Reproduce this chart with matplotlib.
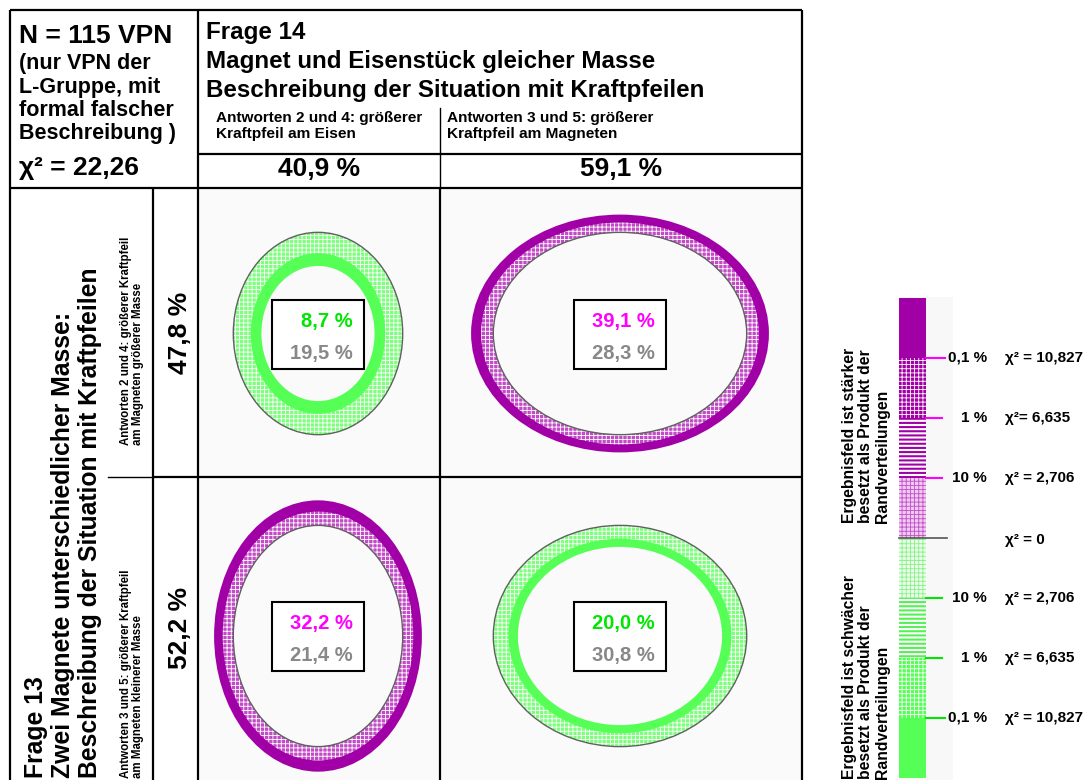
import numpy as np
import matplotlib
matplotlib.use("Agg")
import matplotlib.pyplot as plt
from matplotlib.patches import Ellipse, Rectangle

plt.rcParams['font.family'] = ['Liberation Sans', 'DejaVu Sans']
plt.rcParams['font.weight'] = 'bold'
plt.rcParams['hatch.linewidth'] = 0.6

# Vierfeldertafel Frage 13 x Frage 14
n_vpn = 115
chi2 = 22.26
col_labels = ['Antworten 2 und 4: größerer\nKraftpfeil am Eisen',
              'Antworten 3 und 5: größerer\nKraftpfeil am Magneten']
col_pct = [40.9, 59.1]
row_labels = ['Antworten 2 und 4: größerer Kraftpfeil\nam Magneten größerer Masse',
              'Antworten 3 und 5: größerer Kraftpfeil\nam Magneten kleinerer Masse']
row_pct = [47.8, 52.2]
observed = [[8.7, 39.1],
            [32.2, 20.0]]
expected = [[19.5, 28.3],
            [21.4, 30.8]]

# Legende: Signifikanzniveaus
levels = ['0,1 %', '1 %', '10 %']
chi_crit = ['χ² = 10,827', 'χ²= 6,635', 'χ² = 2,706']
chi_crit_low = ['χ² = 10,827', 'χ² = 6,635', 'χ² = 2,706']

PURPLE = '#a100a6'
PURPLE_H = '#c24cc6'
MAGENTA = '#ff00ff'
GREEN = '#55ff55'
GREEN_H = '#7dff7d'
LIME = '#00e600'
GRAY_TXT = '#888888'


def pct(v):
    return f'{v:.1f}'.replace('.', ',') + ' %'


fig = plt.figure(figsize=(10.88, 7.80), dpi=100)
ax = fig.add_axes([0, 0, 1, 1])
ax.set_xlim(0, 1088)
ax.set_ylim(780, 0)
ax.axis('off')

# Tabellenraster
x_left, x_mid, x_right = 198, 440, 802
y_top, y_mid, y_bot = 188, 477, 793
ax.add_patch(Rectangle((x_left, y_top), x_right - x_left, 780 - y_top,
                       facecolor='#fafafa', edgecolor='none', zorder=0))

lk = dict(color='black', lw=1.6, solid_capstyle='butt', zorder=5)
ax.plot([10, x_right], [10, 10], **lk)
ax.plot([10, 10], [10, 780], **lk)
ax.plot([x_right, x_right], [10, 780], **lk)
ax.plot([10, x_right], [y_top, y_top], **lk)
ax.plot([x_left, x_right], [154, 154], **lk)
ax.plot([x_left, x_left], [10, 780], **lk)
ax.plot([x_mid, x_mid], [108, y_top], color='black', lw=1.0, zorder=5)
ax.plot([x_mid, x_mid], [y_top, 780], **lk)
ax.plot([153, 153], [y_top, 780], **lk)
ax.plot([108, 153], [y_mid, y_mid], color='black', lw=1.0, zorder=5)
ax.plot([153, x_right], [y_mid, y_mid], **lk)

# Kopf links
ax.text(19, 36, f'N = {n_vpn} VPN', fontsize=19, va='center')
for i, s in enumerate(['(nur VPN der', 'L-Gruppe, mit', 'formal falscher', 'Beschreibung )']):
    ax.text(19, 64 + i * 23, s, fontsize=15.5, va='center')
ax.text(19, 168, 'χ² = ' + f'{chi2:.2f}'.replace('.', ','), fontsize=19, va='center')

# Kopf Frage 14
for i, s in enumerate(['Frage 14', 'Magnet und Eisenstück gleicher Masse',
                       'Beschreibung der Situation mit Kraftpfeilen']):
    ax.text(206, 33 + i * 28.5, s, fontsize=17.4, va='center')

col_x = [(x_left, x_mid), (x_mid, x_right)]
col_off = [18, 7]
for j, (a, b) in enumerate(col_x):
    ax.text(a + col_off[j], 126, col_labels[j], fontsize=11.1, va='center', linespacing=1.15)
    ax.text((a + b) / 2, 169, pct(col_pct[j]), fontsize=19, ha='center', va='center')

# Kopf Frage 13 (gedreht)
for x, s in [(36, 'Frage 13'), (63, 'Zwei Magnete unterschiedlicher Masse:'),
             (90, 'Beschreibung der Situation mit Kraftpfeilen')]:
    ax.text(x, 778, s, rotation=90, fontsize=17.8, ha='center', va='bottom')

row_y = [(y_top, y_mid), (y_mid, y_bot)]
row_start = [445, 778]
row_mid = [333, 628]
for i in range(2):
    ax.text(132, row_start[i], row_labels[i], rotation=90, fontsize=8.3,
            ha='center', va='bottom', multialignment='left', linespacing=1.1)
    ax.text(180, row_mid[i], pct(row_pct[i]), rotation=90, fontsize=19,
            ha='center', va='center')


# Ringe: innerer Rand = kleinerer Wert, äußerer Rand = größerer Wert
def ring(cx, cy, w, h, obs, exp):
    r = np.sqrt(obs / exp)
    if obs > exp:
        mid = 1 + 0.55 * (r - 1)
        ax.add_patch(Ellipse((cx, cy), w * r, h * r, facecolor=PURPLE,
                             edgecolor='none', zorder=2))
        ax.add_patch(Ellipse((cx, cy), w * mid, h * mid, facecolor=PURPLE_H,
                             edgecolor='white', lw=0, hatch='++++', zorder=2))
        ax.add_patch(Ellipse((cx, cy), w, h, facecolor='#fafafa',
                             edgecolor='#606060', lw=1.0, zorder=2))
    else:
        mid = 1 - 0.62 * (1 - r)
        ax.add_patch(Ellipse((cx, cy), w, h, facecolor=GREEN_H,
                             edgecolor='white', lw=0, hatch='++++', zorder=2))
        ax.add_patch(Ellipse((cx, cy), w, h, facecolor='none',
                             edgecolor='#606060', lw=1.0, zorder=2))
        ax.add_patch(Ellipse((cx, cy), w * mid, h * mid, facecolor=GREEN,
                             edgecolor='none', zorder=2))
        ax.add_patch(Ellipse((cx, cy), w * r, h * r, facecolor='#fafafa',
                             edgecolor='none', zorder=2))


for i, (ya, yb) in enumerate(row_y):
    for j, (xa, xb) in enumerate(col_x):
        cx, cy = (xa + xb) / 2 - 1, (ya + yb) / 2 + 1
        w, h = 0.70 * (xb - xa), 0.70 * (yb - ya)
        o, e = observed[i][j], expected[i][j]
        ring(cx, cy, w, h, o, e)
        ax.add_patch(Rectangle((cx - 46, cy - 34), 92, 69, facecolor='white',
                               edgecolor='black', lw=1.5, zorder=3))
        col = MAGENTA if o > e else LIME
        ax.text(cx + 35, cy - 12, pct(o), color=col, fontsize=14.5,
                ha='right', va='center', zorder=4)
        ax.text(cx + 35, cy + 20, pct(e), color=GRAY_TXT, fontsize=14.5,
                ha='right', va='center', zorder=4)

# Legende
bx, bw, bh, y0 = 899, 27, 60, 538
ax.add_patch(Rectangle((bx, y0 - 4 * bh - 1), 54, 8 * bh + 10, facecolor='#f8f8f8',
                       edgecolor='none', zorder=0))
# (Füllung, Schraffur, Schraffurfarbe, Schraffurstärke)
bands = [
    (PURPLE, None, None, 0.6),
    (PURPLE, '++++', 'white', 0.6),
    ('white', '----', PURPLE, 1.5),
    ('#f0c8f0', '++++', '#c050c8', 0.6),
    ('#eaffea', '++++', '#88f088', 0.6),
    ('white', '----', '#55f055', 1.5),
    (GREEN, '++++', 'white', 0.6),
    (GREEN, None, None, 0.6),
]
for k, (fc, ht, hc, hlw) in enumerate(bands):
    top = y0 - 4 * bh + k * bh
    with plt.rc_context({'hatch.linewidth': hlw}):
        ax.add_patch(Rectangle((bx, top), bw, bh, facecolor=fc,
                               edgecolor=hc if hc else 'none', lw=0, hatch=ht, zorder=2))
ax.plot([bx, 947], [y0, y0], color='#555555', lw=1.2, zorder=3)

for k in range(3):
    yt = y0 - (3 - k) * bh
    yb_ = y0 + (3 - k) * bh
    xe = 945 if k == 0 else 942
    ax.plot([bx + bw, xe], [yt, yt], color=MAGENTA, lw=1.5, zorder=3)
    ax.plot([bx + bw, xe], [yb_, yb_], color=LIME, lw=1.5, zorder=3)
    ax.text(987, yt, levels[k], fontsize=11, ha='right', va='center')
    ax.text(987, yb_, levels[k], fontsize=11, ha='right', va='center')
    ax.text(1005, yt, chi_crit[k], fontsize=11, va='center')
    ax.text(1005, yb_, chi_crit_low[k], fontsize=11, va='center')
ax.text(1005, y0 + 2, 'χ² = 0', fontsize=11, va='center')

ax.text(866, 523, 'Ergebnisfeld ist stärker\nbesetzt als Produkt der\nRandverteilungen',
        rotation=90, fontsize=11.3, ha='center', va='bottom', multialignment='left',
        linespacing=1.12)
ax.text(866, 779, 'Ergebnisfeld ist schwächer\nbesetzt als Produkt der\nRandverteilungen',
        rotation=90, fontsize=11.3, ha='center', va='bottom', multialignment='left',
        linespacing=1.12)

fig.savefig('out.png', dpi=100, facecolor='white')
